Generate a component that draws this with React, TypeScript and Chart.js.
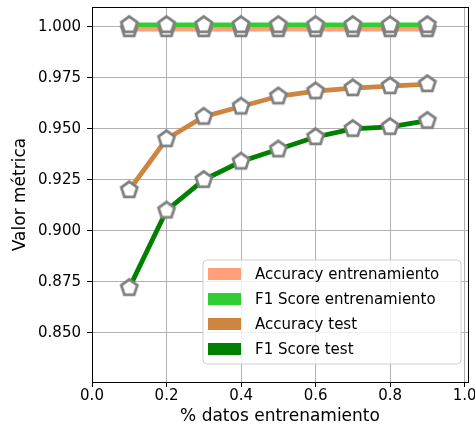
import React, { useEffect, useRef } from "react";
import { Chart, registerables } from "chart.js";

Chart.register(...registerables);

const xValues = [0.1, 0.2, 0.3, 0.4, 0.5, 0.6, 0.7, 0.8, 0.9];
const accTrain = [0.999, 0.999, 0.999, 0.999, 0.999, 0.999, 0.999, 0.999, 0.999];
const f1Train = [1.001, 1.001, 1.001, 1.001, 1.001, 1.001, 1.001, 1.001, 1.001];
const accTest = [0.92, 0.945, 0.956, 0.961, 0.966, 0.9685, 0.97, 0.971, 0.972];
const f1Test = [0.872, 0.91, 0.925, 0.934, 0.94, 0.946, 0.95, 0.951, 0.954];

const seriesLabels = ["Accuracy entrenamiento", "F1 Score entrenamiento", "Accuracy test", "F1 Score test"];
const seriesColors = ["#FFA07A", "#32CD32", "#CD853F", "#008000"];
const xTicks = [0, 0.2, 0.4, 0.6, 0.8, 1.0];
const yTicks = [0.85, 0.875, 0.9, 0.925, 0.95, 0.975, 1.0];
const xTitle = "% datos entrenamiento";
const yTitle = "Valor métrica";

const FONT = "'DejaVu Sans', sans-serif";

function makePentagon(): HTMLCanvasElement {
  const c = document.createElement("canvas");
  const s = 24;
  c.width = s;
  c.height = s;
  const ctx = c.getContext("2d")!;
  const r = 8.4;
  const cx = s / 2;
  const cy = s / 2;
  ctx.beginPath();
  for (let i = 0; i < 5; i++) {
    const a = -Math.PI / 2 + (i * 2 * Math.PI) / 5;
    const px = cx + r * Math.cos(a);
    const py = cy + r * Math.sin(a);
    if (i === 0) ctx.moveTo(px, py);
    else ctx.lineTo(px, py);
  }
  ctx.closePath();
  ctx.fillStyle = "#ffffff";
  ctx.fill();
  ctx.lineWidth = 2.8;
  ctx.lineJoin = "miter";
  ctx.strokeStyle = "#808080";
  ctx.stroke();
  return c;
}

const framePlugin = {
  id: "frameAndLegend",
  afterDraw(chart: any) {
    const { ctx, chartArea } = chart;
    const { left, right, top, bottom } = chartArea;
    ctx.save();
    ctx.strokeStyle = "#000000";
    ctx.lineWidth = 1;
    ctx.strokeRect(Math.round(left) + 0.5, Math.round(top) + 0.5, Math.round(right - left), Math.round(bottom - top));

    const bw = 258;
    const bh = 104;
    const bx = right - 7 - bw;
    const by = bottom - 18 - bh;
    const rad = 4;
    ctx.beginPath();
    ctx.moveTo(bx + rad, by);
    ctx.lineTo(bx + bw - rad, by);
    ctx.quadraticCurveTo(bx + bw, by, bx + bw, by + rad);
    ctx.lineTo(bx + bw, by + bh - rad);
    ctx.quadraticCurveTo(bx + bw, by + bh, bx + bw - rad, by + bh);
    ctx.lineTo(bx + rad, by + bh);
    ctx.quadraticCurveTo(bx, by + bh, bx, by + bh - rad);
    ctx.lineTo(bx, by + rad);
    ctx.quadraticCurveTo(bx, by, bx + rad, by);
    ctx.closePath();
    ctx.fillStyle = "rgba(255,255,255,0.8)";
    ctx.fill();
    ctx.strokeStyle = "#d0d0d0";
    ctx.lineWidth = 1;
    ctx.stroke();

    ctx.font = `15px ${FONT}`;
    ctx.textBaseline = "middle";
    ctx.textAlign = "left";
    seriesLabels.forEach((lab, i) => {
      const cy = by + 14 + i * 25;
      ctx.fillStyle = seriesColors[i];
      ctx.fillRect(bx + 5, cy - 6, 33, 12);
      ctx.fillStyle = "#000000";
      ctx.fillText(lab, bx + 52, cy + 1);
    });
    ctx.restore();
  },
};

export default function App() {
  const ref = useRef<HTMLCanvasElement | null>(null);
  useEffect(() => {
    if (!ref.current) return;
    const marker = makePentagon();
    const seriesData = [accTrain, f1Train, accTest, f1Test];
    const chart = new Chart(ref.current, {
      type: "line",
      data: {
        datasets: seriesData.map((vals, i) => ({
          label: seriesLabels[i],
          data: vals.map((v, j) => ({ x: xValues[j], y: v })),
          borderColor: seriesColors[i],
          backgroundColor: seriesColors[i],
          borderWidth: 4.8,
          pointStyle: marker as any,
          pointRadius: 9,
          pointHoverRadius: 9,
          tension: 0,
          fill: false,
          order: 4 - i,
        })),
      },
      options: {
        responsive: false,
        devicePixelRatio: 1,
        animation: false,
        layout: { autoPadding: false, padding: { top: 7, right: 7, left: 0, bottom: 0 } },
        plugins: {
          legend: { display: false },
          tooltip: { enabled: false },
        },
        scales: {
          x: {
            type: "linear",
            min: 0,
            max: 1.009,
            afterFit: (s: any) => {
              s.height = 47;
              s.paddingLeft = 0;
              s.paddingRight = 0;
            },
            afterBuildTicks: (s: any) => {
              s.ticks = xTicks.map((v) => ({ value: v }));
            },
            ticks: {
              font: { family: FONT, size: 15 },
              color: "#000000",
              padding: 0,
              maxRotation: 0,
              callback: (v: any) => Number(v).toFixed(1),
            },
            grid: { color: "#b0b0b0", lineWidth: 1, tickColor: "#000000", tickLength: 5 },
            border: { display: false },
            title: {
              display: true,
              text: xTitle,
              font: { family: FONT, size: 17 },
              color: "#000000",
              padding: { top: 0, bottom: 2 },
            },
          },
          y: {
            type: "linear",
            min: 0.8258,
            max: 1.0098,
            afterFit: (s: any) => {
              s.width = 92;
              s.paddingTop = 0;
              s.paddingBottom = 0;
            },
            afterBuildTicks: (s: any) => {
              s.ticks = yTicks.map((v) => ({ value: v }));
            },
            ticks: {
              font: { family: FONT, size: 15 },
              color: "#000000",
              padding: 6,
              callback: (v: any) => Number(v).toFixed(3),
            },
            grid: { color: "#b0b0b0", lineWidth: 1, tickColor: "#000000", tickLength: 5 },
            border: { display: false },
            title: {
              display: true,
              text: yTitle,
              font: { family: FONT, size: 17 },
              color: "#000000",
              padding: { top: 10, bottom: 0 },
            },
          },
        },
      },
      plugins: [framePlugin],
    });
    return () => chart.destroy();
  }, []);
  return (
    <div style={{ position: "absolute", left: 0, top: 0, width: 475, height: 429, background: "#fff" }}>
      <canvas ref={ref} width={475} height={429} style={{ display: "block" }} />
    </div>
  );
}
